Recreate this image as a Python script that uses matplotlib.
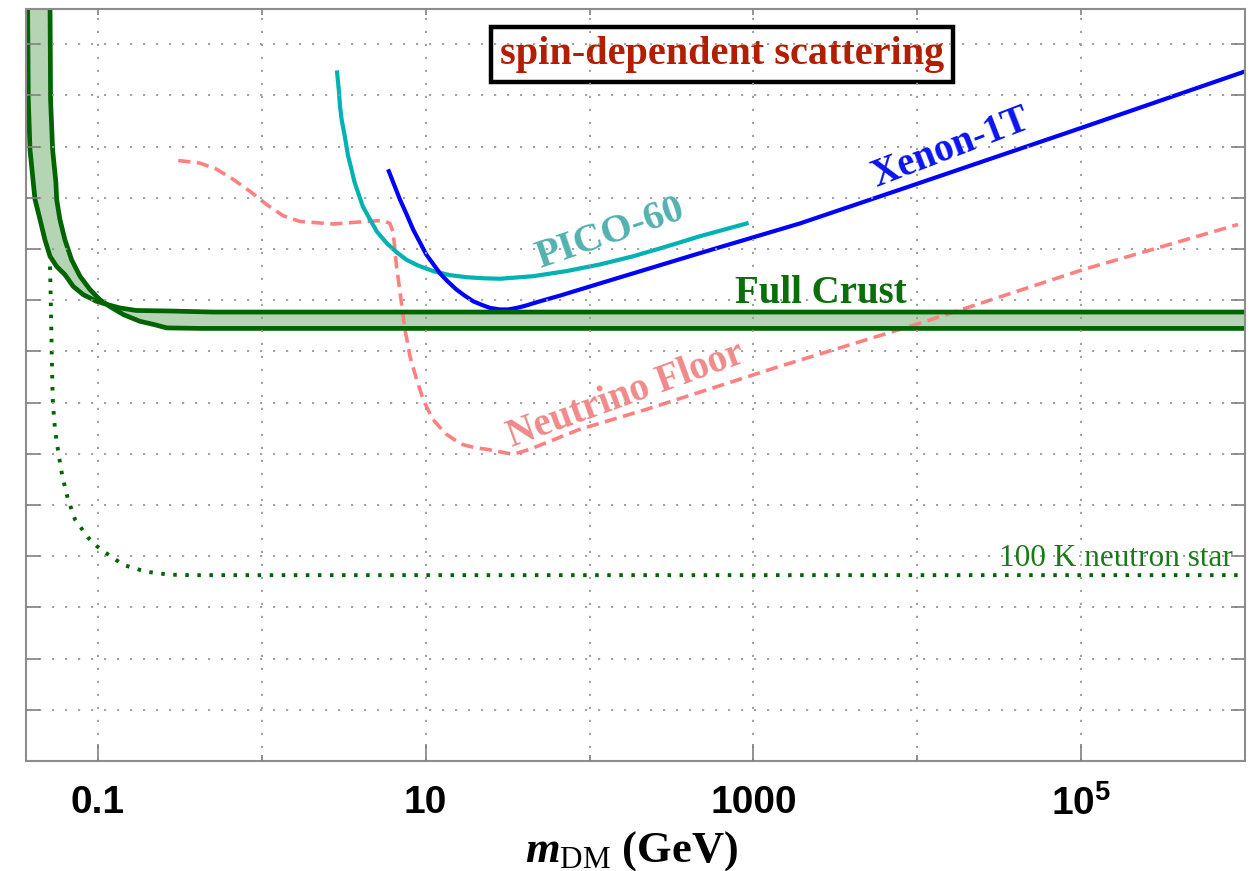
import numpy as np
import matplotlib
matplotlib.use("Agg")
import matplotlib.pyplot as plt
from matplotlib import font_manager
from matplotlib.ticker import FixedLocator, FixedFormatter, NullLocator, NullFormatter

crust_a_m = [0.0372, 0.0376, 0.0385, 0.0403, 0.0413, 0.0443, 0.0475, 0.0510, 0.0560,
             0.0629, 0.0707, 0.0813, 0.0982, 0.113, 0.136, 0.172, 0.275, 0.5, 1e6]
crust_a_ls = [-35.13, -37.08, -38.06, -38.70, -39.03, -39.42, -39.82, -40.14, -40.34,
              -40.50, -40.73, -40.89, -41.02, -41.08, -41.15, -41.20, -41.21, -41.23, -41.23]

crust_b_m = [0.0510, 0.0514, 0.0529, 0.0554, 0.0560, 0.0586, 0.0629, 0.0691, 0.0777,
             0.0894, 0.1028, 0.118, 0.143, 0.180, 0.217, 0.263, 0.419, 1e6]
crust_b_ls = [-35.13, -37.08, -38.06, -38.70, -39.03, -39.42, -39.82, -40.21, -40.53,
              -40.79, -40.99, -41.12, -41.28, -41.41, -41.47, -41.54, -41.55, -41.55]

ns_m = [0.0510, 0.0514, 0.0522, 0.0529, 0.0533, 0.0547, 0.0573, 0.0605, 0.0653,
        0.0724, 0.0873, 0.0982, 0.110, 0.143, 0.195, 0.271, 0.373, 1e6]
ns_ls = [-40.34, -40.79, -41.96, -42.88, -43.07, -43.52, -43.97, -44.42, -44.86,
         -45.28, -45.64, -45.80, -45.92, -46.17, -46.30, -46.36, -46.37, -46.37]

pico_m = [2.88, 2.95, 3.00, 3.07, 3.21, 3.35, 3.53, 3.67, 3.87, 4.14, 4.57, 5.04,
          5.77, 6.58, 7.64, 8.96, 11.1, 14.1, 17.8, 22.3, 28.4, 45.3, 72.4, 116,
          185, 295, 471, 908]
pico_ls = [-36.55, -36.89, -37.21, -37.47, -37.80, -38.16, -38.45, -38.68, -38.90,
           -39.17, -39.42, -39.66, -39.88, -40.05, -40.21, -40.32, -40.43, -40.51,
           -40.55, -40.57, -40.58, -40.53, -40.43, -40.30, -40.14, -39.95, -39.75,
           -39.50]

xenon_m = [5.96, 6.96, 7.67, 8.39, 9.22, 10.1, 12.2, 13.6, 15.4, 17.3, 19.5, 22.0,
           24.7, 28.4, 31.8, 35.9, 40.3, 49.8, 65.9, 116, 471, 951, 1920, 7820,
           1.03e5, 1e6]
xenon_ls = [-38.48, -39.03, -39.33, -39.62, -39.87, -40.11, -40.47, -40.63, -40.79,
            -40.91, -41.02, -41.09, -41.15, -41.18, -41.18, -41.15, -41.11, -41.02,
            -40.91, -40.67, -40.08, -39.79, -39.50, -38.84, -37.62, -36.53]

nu_m = [0.309, 0.419, 0.530, 0.670, 0.846, 1.07, 1.35, 1.71, 2.73, 4.36, 5.50, 6.05,
        6.34, 6.64, 6.92, 7.29, 7.47, 7.83, 8.01, 8.81, 9.66, 10.3, 11.1, 12.2, 13.4,
        15.1, 16.9, 20.0, 23.5, 28.4, 34.2, 43.3, 87.3, 223, 1450, 9890, 1.03e5,
        9.06e5]
nu_ls = [-38.27, -38.32, -38.44, -38.64, -38.87, -39.13, -39.35, -39.46, -39.51,
         -39.46, -39.44, -39.50, -39.68, -40.34, -40.76, -41.31, -41.57, -41.90,
         -42.09, -42.55, -42.94, -43.13, -43.33, -43.48, -43.62, -43.73, -43.82,
         -43.88, -43.91, -43.96, -44.01, -43.91, -43.52, -43.13, -42.29, -41.47,
         -40.40, -39.52]

xticks_major = [0.1, 10, 1000, 1e5]
xticks_minor = [1, 100, 1e4]
xtick_labels = ["0.1", "10", "1000", r"$\mathbf{10^5}$"]
yticks = [10.0 ** k for k in range(-49, -35)]

names = {f.name for f in font_manager.fontManager.ttflist}
tick_font = "Liberation Sans Narrow" if "Liberation Sans Narrow" in names else "Liberation Sans"
tick_size = 34 if tick_font == "Liberation Sans Narrow" else 28

plt.rcParams["font.family"] = ["Liberation Serif", "DejaVu Serif"]
plt.rcParams["mathtext.fontset"] = "custom"
plt.rcParams["mathtext.rm"] = "Liberation Serif"
plt.rcParams["mathtext.it"] = "Liberation Serif:italic:bold"
plt.rcParams["mathtext.bf"] = tick_font + ":bold"
plt.rcParams["lines.solid_joinstyle"] = "round"
plt.rcParams["lines.dash_joinstyle"] = "round"

fig = plt.figure(figsize=(12.58, 8.71), dpi=100)
ax = fig.add_axes([0.0204, 0.1263, 0.9693, 0.8634])
ax.set_xscale("log")
ax.set_yscale("log")

dark_green = "#006400"

def sig(ls):
    return 10.0 ** np.asarray(ls)

# crust band: fill between the two boundaries, then outline them
band_m = np.concatenate([crust_a_m, crust_b_m[::-1]])
band_s = np.concatenate([sig(crust_a_ls), sig(crust_b_ls)[::-1]])
ax.fill(band_m, band_s, color="#b4d4b4", lw=0, zorder=1.5)
ax.plot(crust_a_m, sig(crust_a_ls), color=dark_green, lw=3.4, zorder=2.2)
ax.plot(crust_b_m, sig(crust_b_ls), color=dark_green, lw=3.4, zorder=2.2)

ax.plot(ns_m, sig(ns_ls), color=dark_green, lw=2.8, linestyle=(0, (0.9, 2.2)), zorder=1.4)
ax.plot(nu_m, sig(nu_ls), color="#ff8080", lw=2.6, linestyle=(0, (3.4, 1.8)), zorder=2)
ax.plot(pico_m, sig(pico_ls), color="#00b2b2", lw=3.0, zorder=2)
ax.plot(xenon_m, sig(xenon_ls), color="#0000ff", lw=3.0, zorder=2)

ax.set_xlim(10 ** -1.441, 1e6)
ax.set_ylim(1e-50, 10 ** -35.31)

# axis ticks
ax.xaxis.set_major_locator(FixedLocator(xticks_major))
ax.xaxis.set_major_formatter(FixedFormatter(xtick_labels))
ax.xaxis.set_minor_locator(FixedLocator(xticks_minor))
ax.xaxis.set_minor_formatter(NullFormatter())
ax.yaxis.set_major_locator(FixedLocator(yticks))
ax.yaxis.set_major_formatter(NullFormatter())
ax.yaxis.set_minor_locator(NullLocator())

ax.tick_params(axis="x", which="major", direction="in", length=12, width=1.2,
               color="#808080", pad=17)
ax.tick_params(axis="x", which="minor", direction="in", length=4, width=1.2,
               color="#808080")
ax.tick_params(axis="y", which="major", direction="in", length=10, width=1.2,
               color="#808080", left=True, right=True, labelleft=False)
for lab in ax.get_xticklabels():
    lab.set_fontfamily(tick_font)
    lab.set_fontweight("bold")
    lab.set_fontsize(tick_size)

top = ax.secondary_xaxis("top")
top.xaxis.set_major_locator(FixedLocator(xticks_major + xticks_minor))
top.xaxis.set_minor_locator(NullLocator())
top.tick_params(direction="in", length=4, width=1.2, color="#808080", labeltop=False)
top.spines["top"].set_visible(False)

for s in ax.spines.values():
    s.set_color("#8c8c8c")
    s.set_linewidth(1.5)

ax.set_axisbelow(False)
ax.grid(True, which="both", color="#9a9a9a", linestyle=(0, (1.2, 6)), linewidth=1.3)

ax.set_xlabel(r"$m_{\rm DM}$ (GeV)", fontsize=32, fontweight="bold")
ax.xaxis.set_label_coords(0.497, -0.09)

# annotations
ax.text(0.571, 0.939, "spin-dependent scattering", transform=ax.transAxes,
        ha="center", va="center", fontsize=29, fontweight="bold", color="#b41e00",
        zorder=1,
        bbox=dict(boxstyle="square,pad=0.22", facecolor="white", edgecolor="black",
                  linewidth=3.2))
ax.text(133, 10 ** -39.71, "PICO-60", ha="center", va="center", rotation=19,
        rotation_mode="anchor", fontsize=29, fontweight="bold", color="#52b2b0")
ax.text(1.6e4, 10 ** -38.03, "Xenon-1T", ha="center", va="center", rotation=21,
        rotation_mode="anchor", fontsize=28, fontweight="bold", color="#0a14f0")
ax.text(168, 10 ** -42.85, "Neutrino Floor", ha="center", va="center", rotation=20,
        rotation_mode="anchor", fontsize=28, fontweight="bold", color="#f08a8a")
ax.text(2560, 10 ** -41.06, "Full Crust", ha="center", va="baseline",
        fontsize=28, fontweight="bold", color="#0a6e0a")
ax.text(8.4e5, 10 ** -46.19, "100 K neutron star", ha="right", va="baseline",
        fontsize=22.5, color="#1a7a1a")

fig.savefig("out.png", dpi=100)
